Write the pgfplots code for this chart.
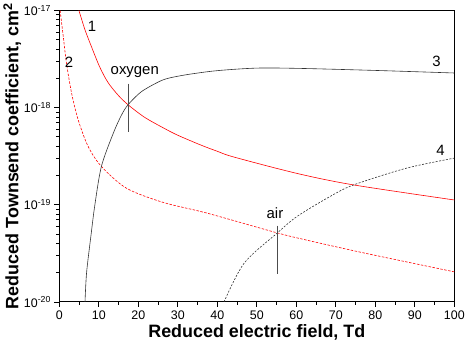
\documentclass[border=0pt]{standalone}
\usepackage{fontspec}
\setmainfont{Liberation Sans}
\usepackage{pgfplots}
\pgfplotsset{compat=1.18}

\begin{document}
\begin{tikzpicture}
\begin{axis}[
    scale only axis,
    width=397pt, height=293pt,
    xmin=0, xmax=100,
    ymode=log, ymin=1e-20, ymax=1e-17,
    xtick={0,10,...,100},
    minor x tick num=1,
    ytick={1e-20,1e-19,1e-18,1e-17},
    yticklabels={10\textsuperscript{-20},10\textsuperscript{-19},10\textsuperscript{-18},10\textsuperscript{-17}},
    tick align=outside,
    xtick pos=left, ytick pos=left,
    major tick length=5pt, minor tick length=3pt,
    axis line style={line width=1.1pt},
    every tick/.style={black, line width=0.8pt},
    tick label style={font=\fontsize{12.5}{14}\selectfont},
    /pgf/number format/assume math mode=true,
    xlabel={\fontsize{18}{20}\selectfont\bfseries Reduced electric field, Td},
    ylabel={\fontsize{18}{20}\selectfont\bfseries Reduced Townsend coefficient, cm\textsuperscript{2}},
    xlabel style={yshift=2pt},
    ylabel style={yshift=-4pt},
]
% curve 1
\addplot[red, line width=0.6pt, smooth] coordinates {
    (4.96,1e-17) (6.5,6.31e-18) (8.1,4.27e-18) (10.2,2.63e-18) (12.3,1.82e-18)
    (14.9,1.34e-18) (17.4,1.07e-18) (21.6,7.94e-19) (26.6,6.10e-19) (30,5.19e-19)
    (35.8,4.12e-19) (40,3.55e-19) (44.3,3.09e-19) (60.2,2.10e-19) (74.5,1.60e-19)
    (100,1.12e-19)
};
% curve 2
\addplot[red, line width=0.6pt, smooth, dash pattern=on 2.5pt off 1.5pt] coordinates {
    (0.2,1e-17) (1.0,5.37e-18) (1.8,2.88e-18) (3.1,1.41e-18) (4.8,7.41e-19)
    (7.3,3.98e-19) (10.65,2.48e-19) (17,1.48e-19) (26.2,1.06e-19) (37.5,8.18e-20)
    (55.2,5.13e-20) (62.7,4.32e-20) (77,3.20e-20) (100,2.04e-20)
};
% curve 3
\addplot[black!80, line width=0.6pt, smooth] coordinates {
    (6.5,1e-20) (6.9,2.0e-20) (8.0,4.79e-20) (9.0,1e-19) (10.65,2.48e-19)
    (13.6,5.37e-19) (15.7,8.32e-19) (17.4,1.07e-18) (20.7,1.45e-18) (24.9,1.82e-18)
    (27.5,2.0e-18) (32.5,2.19e-18) (40,2.40e-18) (50.1,2.55e-18) (61,2.53e-18)
    (80.3,2.41e-18) (100,2.27e-18)
};
% curve 4
\addplot[black!80, line width=0.6pt, smooth, dash pattern=on 2pt off 1.5pt] coordinates {
    (41.7,1e-20) (46.8,2.51e-20) (55.2,5.13e-20) (60.2,7.59e-20) (68.6,1.22e-19)
    (74.5,1.60e-19) (87.9,2.38e-19) (100,3.02e-19)
};
% markers
\addplot[black!70, line width=0.6pt] coordinates {(17.4,1.76e-18) (17.4,5.62e-19)};
\addplot[black!70, line width=0.6pt] coordinates {(55.2,6.10e-20) (55.2,1.96e-20)};
\node[font=\fontsize{15}{17}\selectfont] at (axis cs:19.1,2.34e-18) {oxygen};
\node[font=\fontsize{15}{17}\selectfont] at (axis cs:54.6,8.2e-20) {air};
\node[font=\fontsize{15}{17}\selectfont] at (axis cs:8.3,6.9e-18) {1};
\node[font=\fontsize{15}{17}\selectfont] at (axis cs:2.45,2.9e-18) {2};
\node[font=\fontsize{15}{17}\selectfont] at (axis cs:95.5,3.0e-18) {3};
\node[font=\fontsize{15}{17}\selectfont] at (axis cs:96.5,3.65e-19) {4};
\end{axis}
\end{tikzpicture}
\end{document}
